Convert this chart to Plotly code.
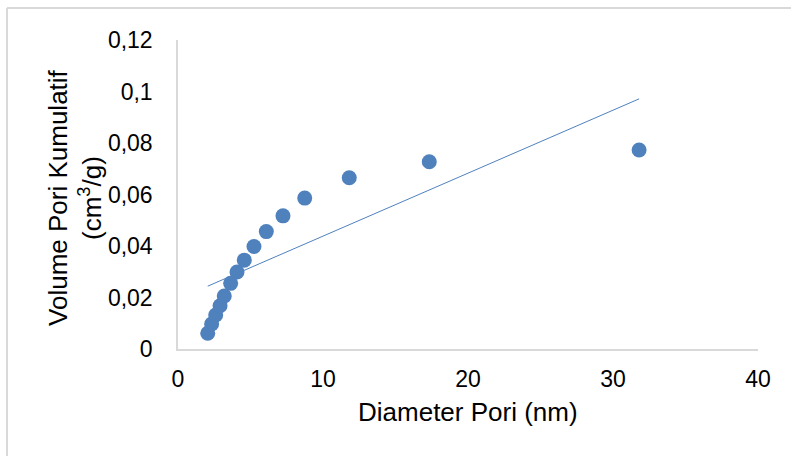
import numpy as np
import plotly.graph_objects as go

# Cumulative pore volume vs pore diameter
diameter_nm = [2.05, 2.32, 2.60, 2.90, 3.19, 3.63, 4.07, 4.57, 5.24, 6.09,
               7.24, 8.74, 11.81, 17.33, 31.80]
cum_volume = [0.0061, 0.0097, 0.0132, 0.0168, 0.0206, 0.0255, 0.0299, 0.0345,
              0.0398, 0.0456, 0.0517, 0.0586, 0.0665, 0.0727, 0.0773]

x_ticks = [0, 10, 20, 30, 40]
y_ticks = [0, 0.02, 0.04, 0.06, 0.08, 0.10, 0.12]

x_title = "Diameter Pori (nm)"
y_title = "Volume Pori Kumulatif<br>(cm<sup>3</sup>/g)"

# Linear trendline over the data range (least squares)
slope, intercept = np.polyfit(diameter_nm, cum_volume, 1)
trend_x = [min(diameter_nm), max(diameter_nm)]
trend_y = [slope * v + intercept for v in trend_x]

blue = "#4f81bd"
grey = "#d9d9d9"
font_main = "Liberation Sans, Arial, sans-serif"

fig = go.Figure()
fig.add_trace(go.Scatter(
    x=trend_x, y=trend_y, mode="lines",
    line=dict(color=blue, width=1), hoverinfo="skip", showlegend=False,
))
fig.add_trace(go.Scatter(
    x=diameter_nm, y=cum_volume, mode="markers",
    marker=dict(color=blue, size=15, line=dict(width=0)),
    showlegend=False, cliponaxis=False,
))

fig.update_layout(
    width=791, height=456,
    margin=dict(l=178, r=33, t=40, b=107),
    paper_bgcolor="white", plot_bgcolor="white",
    separators=", ",
    font=dict(family=font_main, size=23, color="#000000"),
    xaxis=dict(
        range=[0, 40], tickvals=x_ticks, showgrid=False, zeroline=False,
        showline=True, linecolor=grey, linewidth=2,
        ticks="outside", ticklen=8, tickcolor="rgba(0,0,0,0)",
        tickfont=dict(family=font_main, size=23),
    ),
    yaxis=dict(
        range=[0, 0.12], tickvals=y_ticks, showgrid=False, zeroline=False,
        showline=True, linecolor=grey, linewidth=1.5,
        ticks="outside", ticklen=19, tickcolor="rgba(0,0,0,0)",
        tickfont=dict(family=font_main, size=23),
    ),
    annotations=[
        dict(text=x_title, xref="paper", yref="paper", x=0.5, y=-0.204,
             xanchor="center", yanchor="middle", showarrow=False,
             font=dict(family=font_main, size=26)),
        dict(text=y_title, xref="paper", yref="paper", x=-0.1776, y=0.492,
             xanchor="center", yanchor="middle", textangle=-90, showarrow=False,
             font=dict(family=font_main, size=26)),
    ],
    shapes=[
        # chart frame (top and left edges visible)
        dict(type="line", xref="paper", yref="paper",
             x0=(7 - 178) / 580, x1=1.2, y0=1 + (40 - 8) / 309, y1=1 + (40 - 8) / 309,
             line=dict(color=grey, width=2)),
        dict(type="line", xref="paper", yref="paper",
             x0=(7 - 178) / 580, x1=(7 - 178) / 580, y0=-0.5, y1=1 + (40 - 8) / 309,
             line=dict(color=grey, width=2)),
    ],
)

fig.write_html("out.html")
